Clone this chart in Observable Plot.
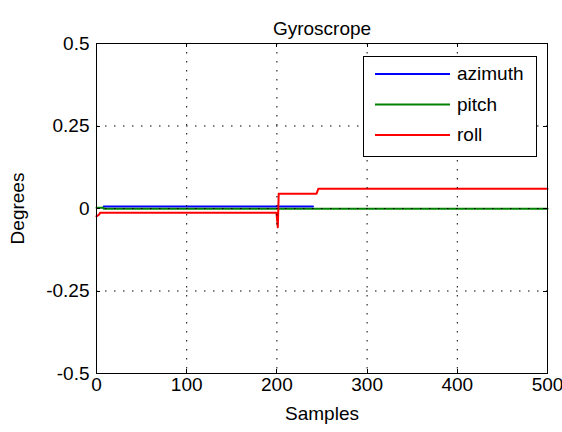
<!DOCTYPE html>
<html>
<head>
<meta charset="utf-8">
<script src="https://cdn.jsdelivr.net/npm/d3@7"></script>
<script src="https://cdn.jsdelivr.net/npm/@observablehq/plot@0.6"></script>
<style>
  html, body { margin: 0; padding: 0; background: #fff; }
</style>
</head>
<body>
<div id="chart"></div>
<script>
// Chart text and tick values
const title = "Gyroscrope";
const xLabel = "Samples";
const yLabel = "Degrees";
const xTicks = [0, 100, 200, 300, 400, 500];
const yTicks = [-0.5, -0.25, 0, 0.25, 0.5];

// Series names and their line colours
const seriesNames = ["azimuth", "pitch", "roll"];
const seriesColors = ["#0000ff", "#008000", "#ff0000"];

// Gyroscope readings (sample index, degrees) at the breakpoints of each trace
const azimuthX = [8, 240];
const azimuthY = [0.006, 0.006];
const pitchX = [0, 8, 8, 500];
const pitchY = [0.002, 0.002, -0.001, -0.001];
const rollX = [0, 3, 4, 199.5, 201, 202, 244, 246, 500];
const rollY = [-0.024, -0.018, -0.013, -0.013, -0.057, 0.045, 0.045, 0.06, 0.06];

const traces = [[azimuthX, azimuthY], [pitchX, pitchY], [rollX, rollY]];
const rows = traces.flatMap(([xs, ys], k) =>
  xs.map((x, i) => ({series: seriesNames[k], x, y: ys[i]}))
);

const font = "'Liberation Sans', Arial, Helvetica, sans-serif";
const fmt = d => String(d);
const inner = a => a.slice(1, -1);
const gridStyle = {stroke: "#000", strokeOpacity: 1, strokeWidth: 1, strokeDasharray: "1.5,7.5"};

const plot = Plot.plot({
  width: 562,
  height: 432,
  marginLeft: 96,
  marginRight: 15,
  marginTop: 43,
  marginBottom: 59,
  style: {fontFamily: font, fontSize: "19px", background: "#fff", color: "#000"},
  x: {domain: [0, 500]},
  y: {domain: [-0.5, 0.5]},
  color: {domain: seriesNames, range: seriesColors},
  marks: [
    Plot.line(rows, {x: "x", y: "y", z: "series", stroke: "series", strokeWidth: 2}),
    Plot.gridX(inner(xTicks), gridStyle),
    Plot.gridY(inner(yTicks), gridStyle),
    // tick labels and axis titles
    Plot.axisX(xTicks, {anchor: "bottom", tickSize: 0, tickPadding: 4, tickFormat: fmt,
      label: xLabel, labelAnchor: "center", labelArrow: "none", labelOffset: 46, fontSize: 19}),
    Plot.axisY(yTicks, {anchor: "left", tickSize: 0, tickPadding: 7, tickFormat: fmt,
      label: yLabel, labelAnchor: "center", labelArrow: "none", labelOffset: 86, fontSize: 19}),
    Plot.frame({stroke: "#000", strokeWidth: 1}),
    Plot.text([title], {frameAnchor: "top", dy: -22, fontSize: 19, fill: "#000"})
  ]
});

document.getElementById("chart").appendChild(plot);

const sx = plot.scale("x");
const sy = plot.scale("y");
const [x0, x1] = [Math.min(...sx.range), Math.max(...sx.range)];
const [y0, y1] = [Math.min(...sy.range), Math.max(...sy.range)];
const svg = d3.select(plot);

// Inward tick marks on all four sides of the frame
const tickLen = 4;
const ticks = svg.append("g").attr("stroke", "#000").attr("stroke-width", 1);
inner(xTicks).forEach(v => {
  const px = Math.round(sx.apply(v)) + 0.5;
  ticks.append("line").attr("x1", px).attr("x2", px).attr("y1", y1).attr("y2", y1 - tickLen);
  ticks.append("line").attr("x1", px).attr("x2", px).attr("y1", y0).attr("y2", y0 + tickLen);
});
inner(yTicks).forEach(v => {
  const py = Math.round(sy.apply(v)) + 0.5;
  ticks.append("line").attr("y1", py).attr("y2", py).attr("x1", x0).attr("x2", x0 + tickLen);
  ticks.append("line").attr("y1", py).attr("y2", py).attr("x1", x1).attr("x2", x1 - tickLen);
});

// Legend box in the upper right corner of the plotting area
const boxRight = x1 - 11;
const boxTop = y0 + 13;
const boxW = 173, boxH = 100, rowGap = 30.5;
const boxLeft = boxRight - boxW;
const g = svg.append("g")
  .attr("font-family", font).attr("font-size", 19).attr("text-anchor", "start");
g.append("rect")
  .attr("x", boxLeft + 0.5).attr("y", boxTop + 0.5)
  .attr("width", boxW).attr("height", boxH)
  .attr("fill", "#fff").attr("stroke", "#000").attr("stroke-width", 1);
seriesNames.forEach((name, i) => {
  const cy = boxTop + 18 + i * rowGap;
  g.append("line")
    .attr("x1", boxLeft + 12).attr("x2", boxLeft + 87)
    .attr("y1", cy).attr("y2", cy)
    .attr("stroke", seriesColors[i]).attr("stroke-width", 2);
  g.append("text")
    .attr("x", boxLeft + 94).attr("y", cy).attr("dy", "0.32em")
    .attr("fill", "#000").attr("text-anchor", "start").text(name);
});
</script>
</body>
</html>
